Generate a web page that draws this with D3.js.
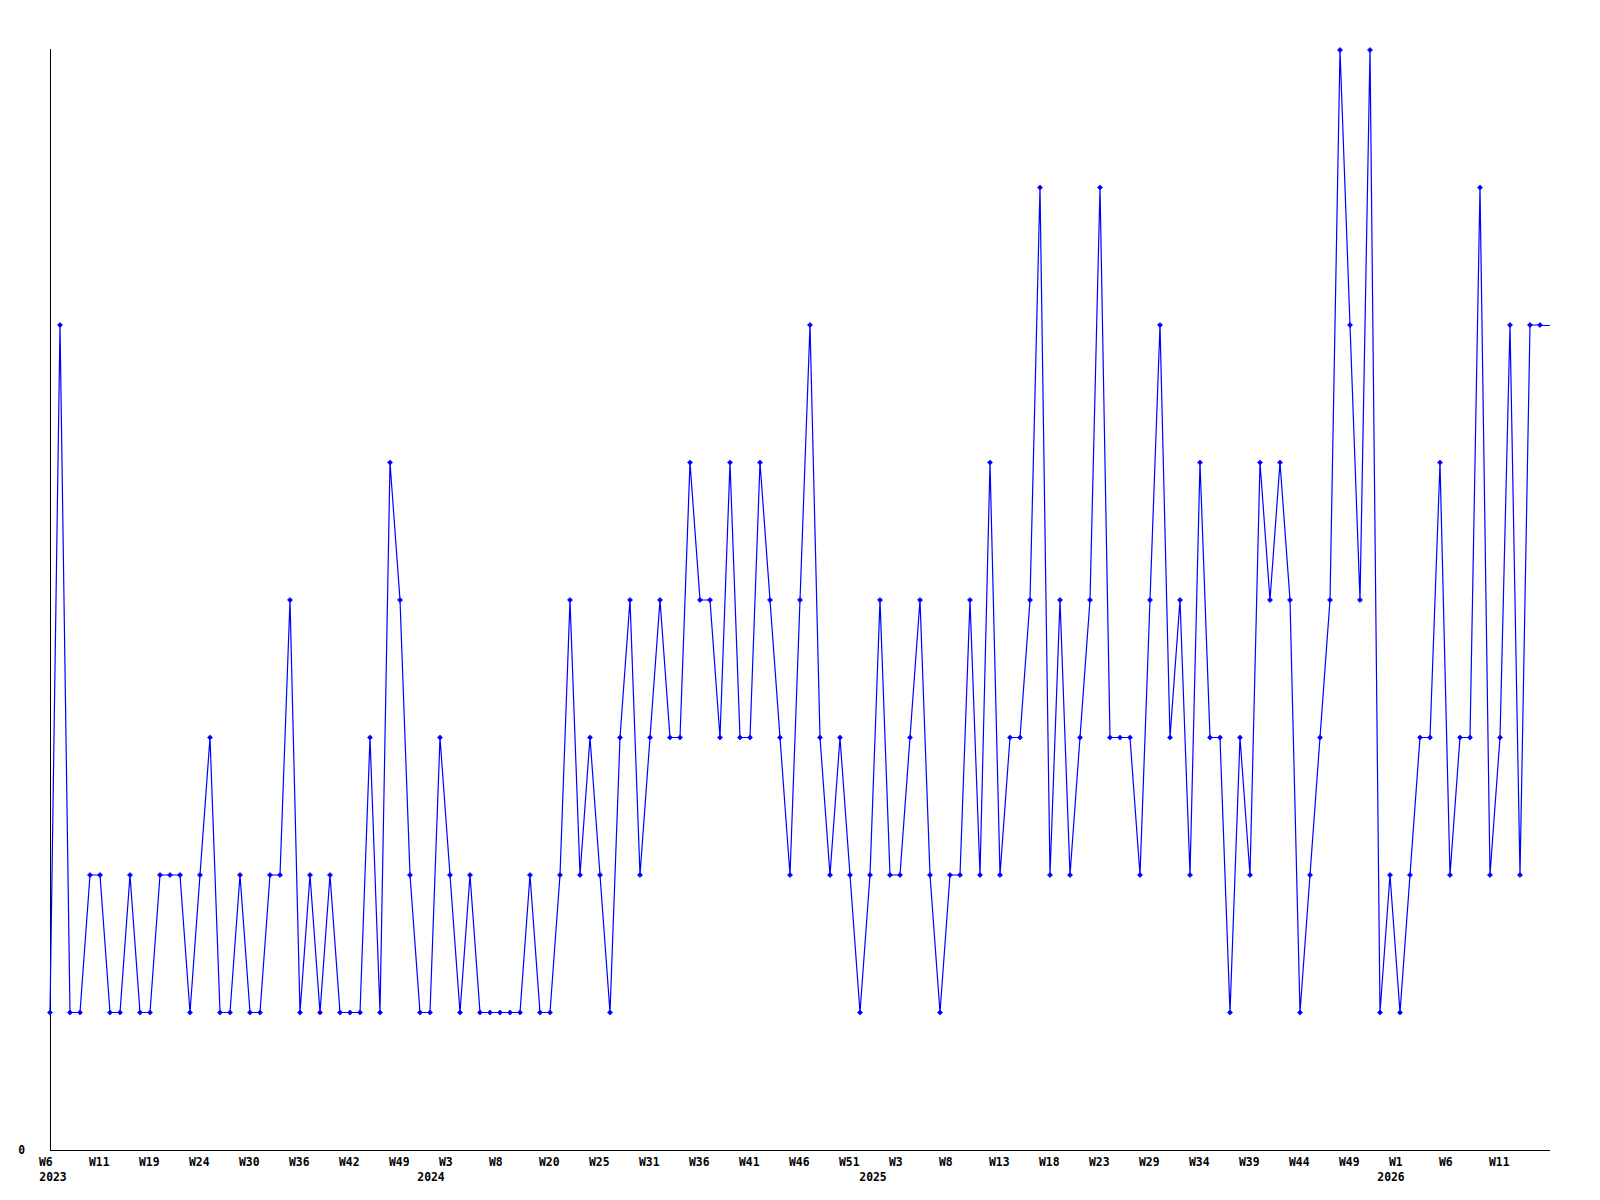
<!DOCTYPE html>
<html>
<head>
<meta charset="utf-8">
<script src="https://cdn.jsdelivr.net/npm/d3@7"></script>
<style>
  html, body { margin: 0; padding: 0; background: #ffffff; }
  svg { display: block; }
  text { font-family: "DejaVu Sans Mono", "Liberation Mono", monospace; font-weight: bold; font-size: 11.4px; fill: #000; }
</style>
</head>
<body>
<script>
// Weekly values, one per point
const values = [
  1, 6, 1, 1, 2, 2, 1, 1, 2, 1,
  1, 2, 2, 2, 1, 2, 3, 1, 1, 2,
  1, 1, 2, 2, 4, 1, 2, 1, 2, 1,
  1, 1, 3, 1, 5, 4, 2, 1, 1, 3,
  2, 1, 2, 1, 1, 1, 1, 1, 2, 1,
  1, 2, 4, 2, 3, 2, 1, 3, 4, 2,
  3, 4, 3, 3, 5, 4, 4, 3, 5, 3,
  3, 5, 4, 3, 2, 4, 6, 3, 2, 3,
  2, 1, 2, 4, 2, 2, 3, 4, 2, 1,
  2, 2, 4, 2, 5, 2, 3, 3, 4, 7,
  2, 4, 2, 3, 4, 7, 3, 3, 3, 2,
  4, 6, 3, 4, 2, 5, 3, 3, 1, 3,
  2, 5, 4, 5, 4, 1, 2, 3, 4, 8,
  6, 4, 8, 1, 2, 1, 2, 3, 3, 5,
  2, 3, 3, 7, 2, 3, 6, 2, 6, 6
];

// Week tick labels (every 5th point)
const tickIndex = [0, 5, 10, 15, 20, 25, 30, 35, 40, 45, 50, 55, 60, 65, 70, 75, 80, 85, 90, 95, 100, 105, 110, 115, 120, 125, 130, 135, 140, 145];
const tickLabels = ["W6", "W11", "W19", "W24", "W30", "W36", "W42", "W49", "W3", "W8", "W20", "W25", "W31", "W36", "W41", "W46", "W51", "W3", "W8", "W13", "W18", "W23", "W29", "W34", "W39", "W44", "W49", "W1", "W6", "W11"];

// Year labels and where they sit (in point-index units, text centre)
const yearLabels = ["2023", "2024", "2025", "2026"];
const yearAt = [0.3, 38.1, 82.3, 134.1];

const yTicks = [0];

const W = 1600, H = 1200;
const svg = d3.select("body").append("svg").attr("width", W).attr("height", H);

const x = d3.scaleLinear().domain([0, values.length]).range([50, 1550]);
const y = d3.scaleLinear().domain([0, d3.max(values)]).range([1150, 50]);

// Axes lines
svg.append("line").attr("x1", x(0)).attr("x2", x(0)).attr("y1", y(d3.max(values)) - 1).attr("y2", y(0))
  .attr("stroke", "#000").attr("stroke-width", 1).attr("shape-rendering", "crispEdges");
svg.append("line").attr("x1", x(0)).attr("x2", x(values.length)).attr("y1", y(0)).attr("y2", y(0))
  .attr("stroke", "#000").attr("stroke-width", 1).attr("shape-rendering", "crispEdges");

// y tick label
svg.selectAll("text.ylab").data(yTicks).enter().append("text")
  .attr("class", "ylab").attr("x", x(0) - 25).attr("y", d => y(d) + 4)
  .attr("text-anchor", "end").text(d => d);

// x tick labels
svg.selectAll("text.xlab").data(tickIndex).enter().append("text")
  .attr("class", "xlab").attr("x", d => x(d) - 11).attr("y", y(0) + 16)
  .attr("text-anchor", "start").text((d, i) => tickLabels[i]);

svg.selectAll("text.yr").data(yearAt).enter().append("text")
  .attr("class", "yr").attr("x", d => x(d)).attr("y", y(0) + 31)
  .attr("text-anchor", "middle").text((d, i) => yearLabels[i]);

// line
const line = d3.line().x((d, i) => x(i)).y(d => y(d));
svg.append("path").datum(values).attr("d", line)
  .attr("fill", "none").attr("stroke", "#0000ff").attr("stroke-width", 1.2);

// extension of last value to the right edge
const last = values.length - 1;
svg.append("line").attr("x1", x(last)).attr("x2", x(values.length))
  .attr("y1", y(values[last])).attr("y2", y(values[last]))
  .attr("stroke", "#0000ff").attr("stroke-width", 1).attr("shape-rendering", "crispEdges");

// markers (small diamonds)
const r = 2.6;
svg.selectAll("path.mk").data(values).enter().append("path")
  .attr("class", "mk")
  .attr("d", (d, i) => {
    const cx = x(i), cy = y(d);
    return `M${cx},${cy - r}L${cx + r},${cy}L${cx},${cy + r}L${cx - r},${cy}Z`;
  })
  .attr("fill", "#0000ff").attr("stroke", "#0000ff").attr("stroke-width", 0.6);
</script>
</body>
</html>
